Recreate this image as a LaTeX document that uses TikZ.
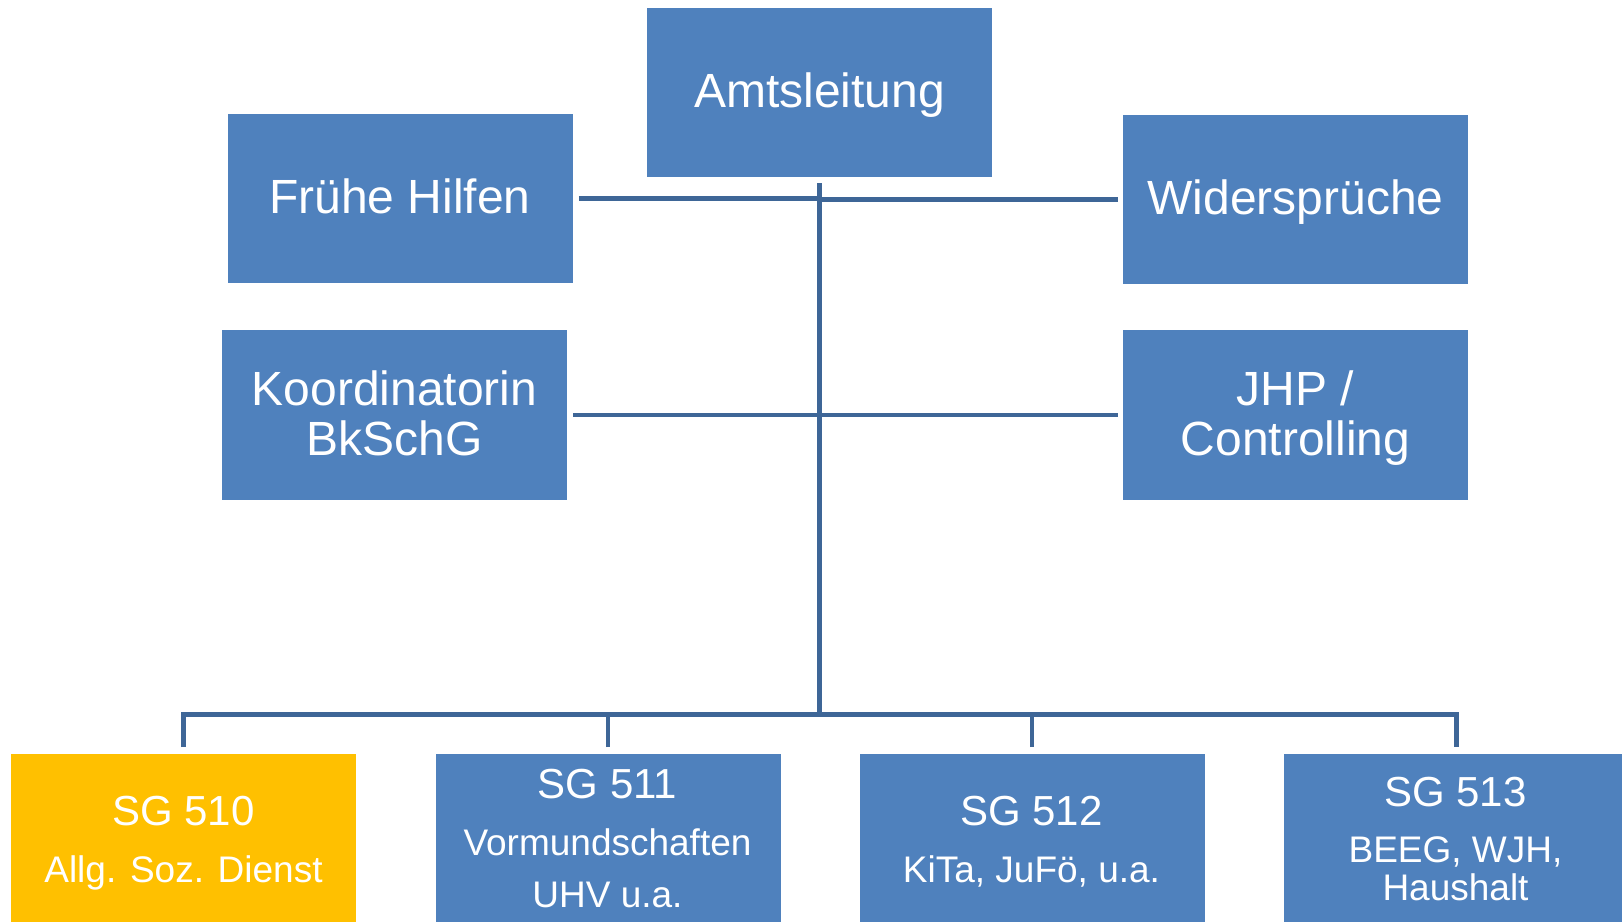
\documentclass[tikz,border=0pt]{standalone}
\usepackage{fontspec}
\setmainfont{Liberation Sans}
\usetikzlibrary{calc}
\definecolor{boxblue}{RGB}{79,129,189}
\definecolor{boxyellow}{RGB}{255,192,0}
\definecolor{linkblue}{RGB}{62,102,151}
\tikzset{
  orgbox/.style={fill=boxblue, draw=none, inner sep=0pt, minimum width=345pt, anchor=north west},
  topbox/.style={orgbox, minimum height=169pt},
  midbox/.style={orgbox, minimum height=170pt},
  subbox/.style={orgbox, minimum height=172pt},
  bigtxt/.style={text=white, anchor=base, inner sep=0pt, font=\fontsize{48}{50}\selectfont},
  titletxt/.style={text=white, anchor=base, inner sep=0pt, font=\fontsize{42}{44}\selectfont},
  subtxt/.style={text=white, anchor=base, inner sep=0pt, font=\fontsize{37}{39}\selectfont},
  conn/.style={draw=linkblue, line width=4.5pt, line join=miter},
}
\begin{document}
\begin{tikzpicture}[x=1pt,y=-1pt]
\useasboundingbox[fill=white] (0,0) rectangle (1622,921);
\begin{scope}
\clip (0,0) rectangle (1622,921);
% boxes
\node[topbox] (amt) at (647,8) {};
\node[topbox] (fruehe) at (227.5,114) {};
\node[topbox] (wider) at (1123,115) {};
\node[midbox] (kord) at (222,330) {};
\node[midbox] (jhp) at (1123,330) {};
\node[subbox, fill=boxyellow] (sg510) at (11,754) {};
\node[subbox] (sg511) at (435.5,754) {};
\node[subbox] (sg512) at (859.5,754) {};
\node[subbox] (sg513) at (1284,754) {};
% texts
\node[bigtxt] (tamt) at (819.5,107.5) {Amtsleitung};
\node[bigtxt] (tfruehe) at (400,213.5) {Frühe Hilfen};
\node[bigtxt] (twider) at (1295.5,214.5) {Widersprüche};
\node[bigtxt] (tkorda) at (394.5,405.5) {Koordinatorin};
\node[bigtxt] (tkordb) at (394.5,455) {BkSchG};
\node[bigtxt] (tjhpa) at (1295.5,405.5) {JHP /};
\node[bigtxt] (tjhpb) at (1295.5,455) {Controlling};
\node[titletxt] (t510a) at (183.5,825.5) {SG 510};
\node[subtxt] (t510b) at (183.5,882) {Allg. Soz. Dienst};
\node[titletxt] (t511a) at (607.5,798) {SG 511};
\node[subtxt] (t511b) at (607.5,855.5) {Vormundschaften};
\node[subtxt] (t511c) at (607.5,907.5) {UHV u.a.};
\node[titletxt] (t512a) at (1031.5,825.5) {SG 512};
\node[subtxt] (t512b) at (1031.5,882) {KiTa, JuFö, u.a.};
\node[titletxt] (t513a) at (1455.5,806) {SG 513};
\node[subtxt] (t513b) at (1455.5,862) {BEEG, WJH,};
\node[subtxt] (t513c) at (1455.5,900) {Haushalt};
% connectors
\coordinate (bus) at ($(amt.south)+(0,537)$);
\draw[conn] ($(amt.south)+(0,6)$) -- (bus);
\draw[conn] ($(fruehe.east)+(6,0)$) -- (fruehe.east -| amt.south);
\draw[conn] (wider.west -| amt.south) -- ($(wider.west)+(-5,0)$);
\draw[conn] ($(kord.east)+(6,0)$) -- ($(jhp.west)+(-5,0)$);
\draw[conn] ($(sg510.north)+(0,-7)$) |- (bus) -| ($(sg513.north)+(0,-7)$);
\draw[conn] ($(sg511.north)+(0,-7)$) -- (sg511.north |- bus);
\draw[conn] ($(sg512.north)+(0,-7)$) -- (sg512.north |- bus);
\end{scope}
\end{tikzpicture}
\end{document}
